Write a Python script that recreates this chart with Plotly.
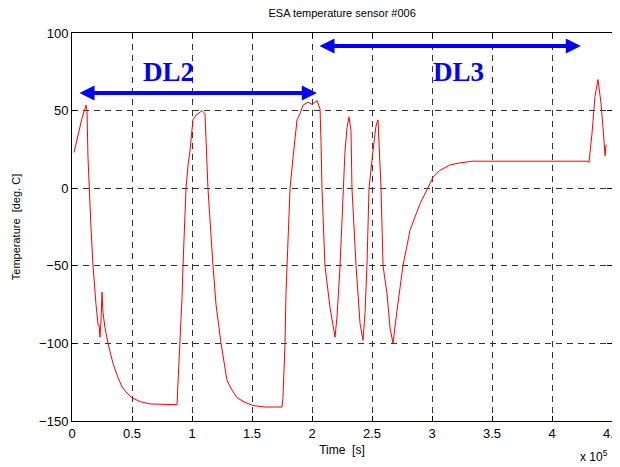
import plotly.graph_objects as go

# Time [s] and temperature [deg. C]
time_s = [1700, 5000, 8300, 11700, 12500, 13300, 14200, 15800, 17500, 18300, 20000, 21700,
          22500, 23300, 24200, 25000, 25800, 27500, 30000, 34200, 38300, 41700, 45800, 50000,
          56700, 65000, 77500, 87500, 88300, 90000, 91700, 92500, 95000, 96700, 98300, 100800,
          103300, 106700, 108300, 110800, 111700, 112500, 113300, 117500, 120000, 124200,
          129200, 133300, 137500, 144200, 150800, 160800, 175000, 175800, 177500, 178300,
          179200, 181700, 184200, 187500, 190000, 192500, 196700, 200000, 204200, 206700,
          207500, 208300, 210800, 215000, 219200, 220800, 223300, 225800, 227500, 229200,
          230800, 232500, 233300, 236700, 240000, 242500, 244200, 245800, 247500, 250800,
          253300, 255000, 256700, 257500, 259200, 262500, 265000, 267500, 270800, 275800,
          281700, 290000, 295800, 300800, 306700, 315000, 320800, 333300, 430000, 430800,
          433300, 435800, 438300, 440800, 442500, 443300, 444200, 445000]
temp_c = [23, 35, 45, 53.5, 50, 20, 0, -25, -50, -60, -75, -88,
          -88, -96, -85, -67, -80, -90, -100, -113, -122, -128, -132, -135,
          -137.5, -139, -139.5, -139.5, -126, -100, -70, -50, 0, 15, 24, 44,
          47, 49, 50, 48, 30, 10, 0, -50, -75, -100,
          -124, -130, -135, -138, -140, -141, -141, -135, -100, -68,
          -50, 0, 20, 44, 48, 53.5, 55.5, 54, 56.5, 51,
          30, 0, -50, -77, -96, -83, -51, 0, 24, 39,
          46, 37, 0, -50, -87, -98, -80, -50, 0, 24,
          40, 44, 18, 0, -50, -68, -90, -100, -79, -50,
          -27, -10, -1, 7, 11.6, 15, 16, 17.4, 17.4, 16.5,
          35, 59, 70, 55, 39, 26, 21, 28]

x_tick_vals = [0, 50000, 100000, 150000, 200000, 250000, 300000, 350000, 400000, 450000]
x_tick_text = ["0", "0.5", "1", "1.5", "2", "2.5", "3", "3.5", "4", "4.5"]
y_tick_vals = [-150, -100, -50, 0, 50, 100]

# Phase arrows: (label, start time, end time, level, label time)
phases = [("DL2", 5000, 204000, 61.3, 80000),
          ("DL3", 205000, 424000, 91.6, 322000)]
label_level = 75

fig = go.Figure()
fig.add_trace(go.Scatter(x=time_s, y=temp_c, mode="lines",
                         line=dict(color="#ff0000", width=1), showlegend=False,
                         hoverinfo="skip"))

for name, t0, t1, lvl, tl in phases:
    fig.add_annotation(x=t1, y=lvl, ax=t0, ay=lvl, xref="x", yref="y",
                       axref="x", ayref="y", text="", showarrow=True,
                       arrowside="end+start", arrowhead=2, startarrowhead=2,
                       arrowsize=0.75, startarrowsize=0.75, arrowwidth=4,
                       arrowcolor="#0000ff", standoff=0, startstandoff=0)
    fig.add_annotation(x=tl, y=label_level, xref="x", yref="y", text="<b>%s</b>" % name,
                       showarrow=False,
                       font=dict(family="Liberation Serif", size=27, color="#0000ff"))

axis_common = dict(showline=True, linecolor="black", linewidth=1, mirror="ticks",
                   ticks="inside", ticklen=5, tickcolor="black", showgrid=True,
                   gridcolor="#333333", griddash="6px,5px", gridwidth=1, zeroline=False,
                   automargin=False, ticklabeloverflow="allow",
                   tickfont=dict(family="Liberation Sans", size=13, color="black"))

fig.update_xaxes(range=[0, 450000], tickvals=x_tick_vals, ticktext=x_tick_text,
                 title=dict(text="Time  [s]", font=dict(family="Liberation Sans", size=12, color="black"),
                            standoff=6),
                 **axis_common)
fig.update_yaxes(range=[-150, 100], tickvals=y_tick_vals,
                 title=dict(text="Temperature  [deg. C]",
                            font=dict(family="Liberation Sans", size=11, color="black"), standoff=16),
                 **axis_common)

fig.add_annotation(x=1.0, y=0, xref="paper", yref="paper", xanchor="right", yanchor="bottom",
                   yshift=-45, xshift=-2, text="x 10<sup>5</sup>", showarrow=False,
                   font=dict(family="Liberation Sans", size=12, color="black"))

# The page body has an 8px margin, so the figure is sized to end at the window edge
fig.update_layout(
    width=612, height=459,
    margin=dict(l=64, r=8, t=25, b=46),
    paper_bgcolor="white", plot_bgcolor="white",
    title=dict(text="ESA temperature sensor #006", x=0.546, xanchor="center", y=1.0, yanchor="top",
               pad=dict(t=1), font=dict(family="Liberation Sans", size=11, color="black")),
)

fig.write_html("out.html")
